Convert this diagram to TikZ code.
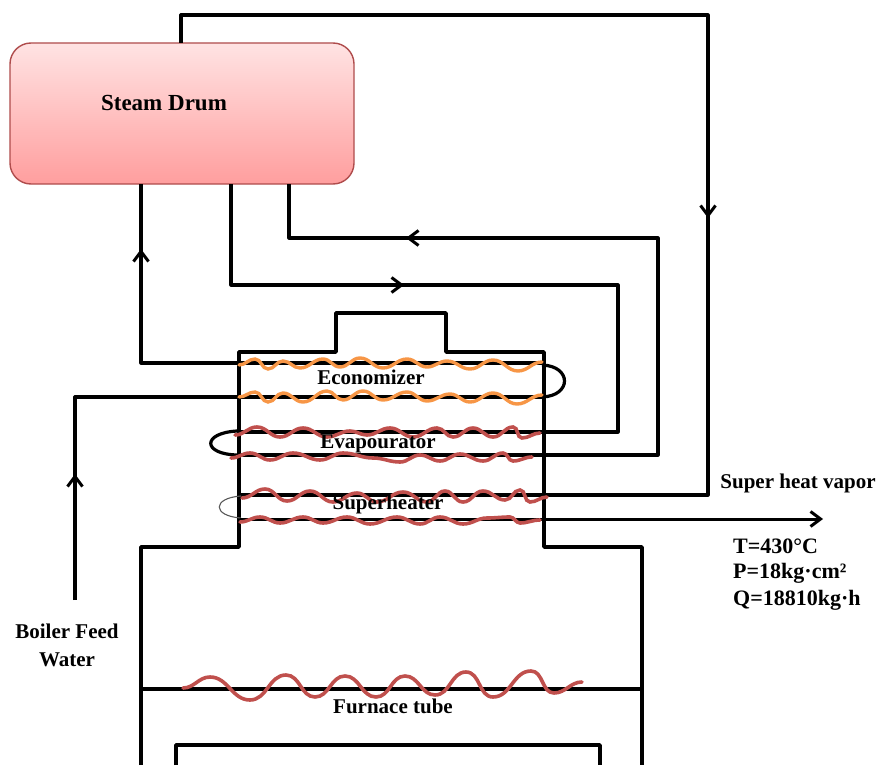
\documentclass[tikz,border=0pt]{standalone}
\usepackage{fontspec}
\setmainfont{Liberation Serif}
\usetikzlibrary{arrows.meta}
\definecolor{ecoorange}{HTML}{F79646}
\definecolor{tubered}{HTML}{C0504D}
\tikzset{
  pipe/.style={draw=black,line width=3.2pt,line join=round},
  wall/.style={draw=black,line width=3.6pt,line join=round},
  tip/.style={draw=black,line width=3pt,-{Straight Barb[length=10pt,width=15pt,line width=3pt]}},
  ecowave/.style={draw=ecoorange,line width=3.4pt,line cap=round,every to/.style={out=0,in=180}},
  redwave/.style={draw=tubered,line width=3.6pt,line cap=round,every to/.style={out=0,in=180}},
  lbl/.style={font=\bfseries\fontsize{21}{23}\selectfont,text=black,inner sep=0pt},
  lblb/.style={font=\bfseries\fontsize{22}{24}\selectfont,text=black,inner sep=0pt,anchor=west},
  drumbox/.style={draw=red!55!black!70,line width=1.4pt,rounded corners=21pt,top color=red!11,bottom color=red!38,minimum width=344pt,minimum height=141pt}
}
\begin{document}
\begin{tikzpicture}[x=1pt,y=-1pt]
\useasboundingbox (0,0) rectangle (880,765);
% furnace walls
\draw[wall] (141,765) -- (141,547) -- (239,547) -- (239,352) -- (336,352) -- (336,313) -- (446,313) -- (446,352) -- (544,352) -- (544,547) -- (642,547) -- (642,765);
\draw[wall] (141,689) -- (642,689);
\draw[wall] (176,765) -- (176,745) -- (600,745) -- (600,765);
% drum
\node[drumbox] (drum) at (182,113.5) {};
\node[lbl,font=\bfseries\fontsize{23}{25}\selectfont] (drumtext) at (164,103) {Steam Drum};
% anchors on the drum
\coordinate (topout) at (181,43);
\coordinate (eco) at (141,184);
\coordinate (evapin) at (231,184);
\coordinate (evapout) at (289,184);
% named ends
\coordinate (e2) at (544,363);
\coordinate (e3) at (544,397);
\coordinate (feed) at (75,600);
\coordinate (v1) at (237,432);
\coordinate (v2) at (237,455);
\coordinate (s1) at (240,495);
\coordinate (s2) at (240,519);
\coordinate (out) at (823,519);
% pipes
\draw[pipe] (topout) -- (181,15) -- (708,15) -- (708,495) -- (s1);
\draw[pipe] (eco) -- (141,363) -- (e2);
\draw[pipe] (evapin) -- (231,285) -- (618,285) -- (618,432) -- (v1);
\draw[pipe] (evapout) -- (289,238) -- (658,238) -- (658,455) -- (v2);
\draw[pipe] (feed) -- (75,397) -- (e3);
\draw[pipe] (542,365) .. controls (572,366) and (572,396) .. (542,397);
\draw[pipe] (237,431) .. controls (202,433) and (202,454) .. (237,455);
\draw[draw=black!65,line width=1.1pt] (241,496) .. controls (212,498) and (212,516) .. (241,518);
\draw[tip] (s2) -- (out);
% arrowheads on the pipes
\coordinate (a1) at (708,203); \coordinate (a1t) at (708,218);
\coordinate (a2) at (141,264); \coordinate (a2t) at (141,249);
\coordinate (a3) at (388,285); \coordinate (a3t) at (404,285);
\coordinate (a4) at (422,238); \coordinate (a4t) at (406,238);
\coordinate (a5) at (75,490); \coordinate (a5t) at (75,474);
\foreach \p/\q in {a1/a1t,a2/a2t,a3/a3t,a4/a4t,a5/a5t} \draw[tip] (\p) -- (\q);
% waves
\draw[ecowave] (239,365) to (255,359) to (268,369) to (283,361) to (300,368) to (323,359) to (340,367) to (360,358) to (383,368) to (407,359) to (427,367) to (447,361) to (470,369) to (493,360) to (518,371) to (542,362);
\draw[ecowave] (239,397) to (255,392) to (268,402) to (283,393) to (303,402) to (327,391) to (343,400) to (363,391) to (383,400) to (407,392) to (427,401) to (450,394) to (470,402) to (493,393) to (517,404) to (542,395);
\draw[redwave] (235,435) to (257,427) to (280,437) to (303,428) to (327,437) to (350,431) to (367,435) to (390,428) to (413,437) to (437,428) to (453,437) to (473,428) to (493,437) to (513,427) to (522,438) to (540,433);
\draw[redwave] (231,458) to (250,453) to (270,460) to (293,453) to (320,460) to (343,453) to (373,458) to (400,462) to (420,455) to (440,461) to (460,454) to (483,461) to (503,453) to (513,461) to (532,457);
\draw[redwave] (242,498) to (265,489) to (287,501) to (310,491) to (333,502) to (357,493) to (377,502) to (403,492) to (427,502) to (445,491) to (463,502) to (483,491) to (505,500) to (520,490) to (530,502) to (547,497);
\draw[redwave] (240,522) to (260,517) to (280,523) to (303,517) to (323,523) to (347,517) to (370,524) to (397,517) to (420,524) to (440,517) to (463,524) to (487,518) to (510,517) to (520,523) to (540,520);
\draw[redwave] (183,688) to (210,677) to (250,700) to (286,675) to (315,697) to (345,676) to (376,697) to (405,676) to (435,695) to (466,672) to (493,697) to (531,671) to (554,693) to (582,682);
% labels
\node[lbl] (teco) at (371,377) {Economizer};
\node[lbl] (tevap) at (378,444) {Evapourator};
\node[lbl] (tsup) at (388,504) {Superheater};
\node[lbl] (tfur) at (393,706) {Furnace tube};
\node[lbl] (tsh) at (798,483) {Super heat vapor};
\node[lblb] (tT) at (733,546) {T=430°C};
\node[lblb] (tP) at (733,573) {P=18kg·cm²};
\node[lblb] (tQ) at (733,600) {Q=18810kg·h};
\node[lbl] (tb1) at (67,631) {Boiler Feed};
\node[lbl] (tb2) at (67,660) {Water};
\end{tikzpicture}
\end{document}
